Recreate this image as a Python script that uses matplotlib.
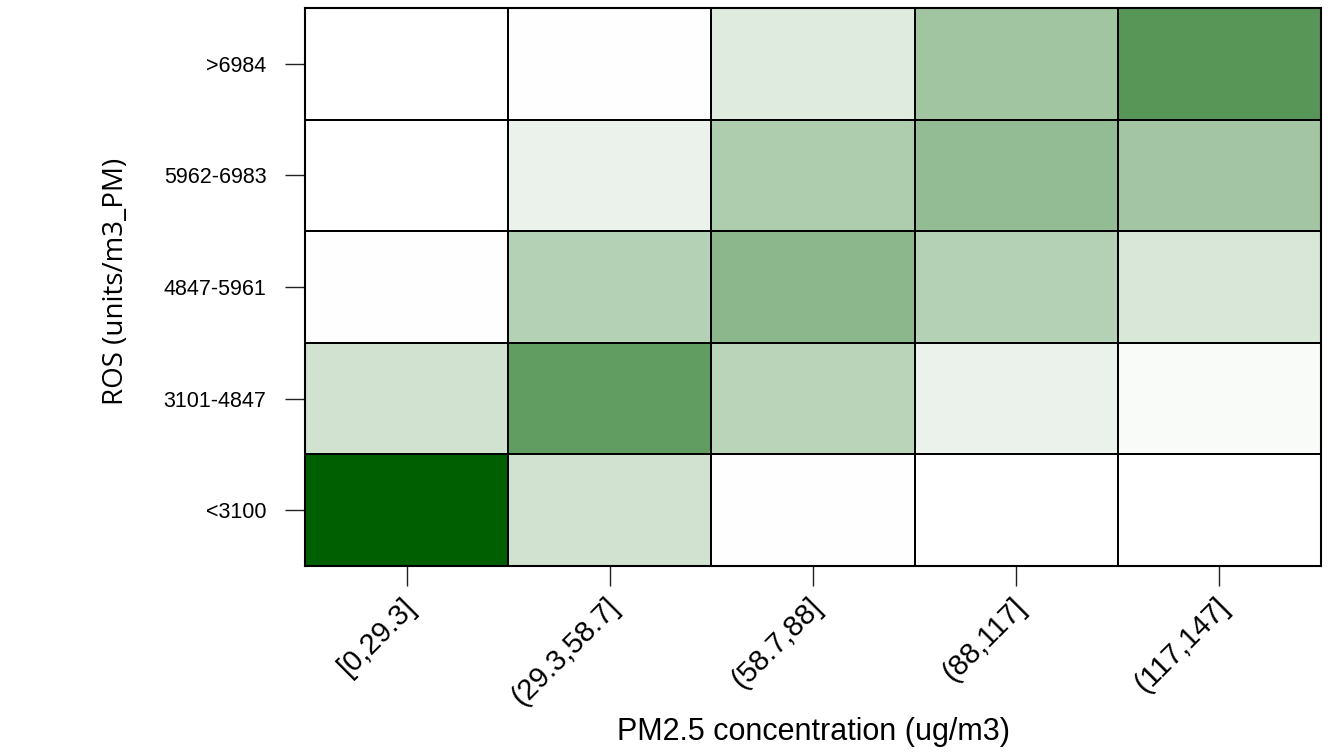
import numpy as np
import matplotlib
matplotlib.use('Agg')
import matplotlib.pyplot as plt
from matplotlib.colors import LinearSegmentedColormap
from matplotlib import transforms

# PM2.5 bins (x) and ROS bins (y, bottom to top)
pm_bins = ['[0,29.3]', '(29.3,58.7]', '(58.7,88]', '(88,117]', '(117,147]']
ros_bins = ['<3100', '3101-4847', '4847-5961', '5962-6983', '>6984']

# relative share per cell, one list per ROS bin
share_lt3100 = [1.00, 0.18, 0.01, 0.00, 0.00]
share_3101_4847 = [0.18, 0.62, 0.27, 0.08, 0.03]
share_4847_5961 = [0.01, 0.29, 0.45, 0.29, 0.15]
share_5962_6983 = [0.00, 0.08, 0.32, 0.42, 0.36]
share_gt6984 = [0.00, 0.01, 0.125, 0.37, 0.66]

grid = np.array([share_lt3100, share_3101_4847, share_4847_5961,
                 share_5962_6983, share_gt6984])

cmap = LinearSegmentedColormap.from_list('wg', ['#ffffff', '#005f00'])

fig = plt.figure(figsize=(13.31, 7.54), dpi=100)
ax = fig.add_axes([0.2292, 0.2493, 0.7633, 0.7401])

ax.pcolormesh(np.arange(len(pm_bins) + 1), np.arange(len(ros_bins) + 1), grid,
              cmap=cmap, vmin=0, vmax=1, edgecolors='black', linewidth=1.2)
ax.set_xlim(0, len(pm_bins))
ax.set_ylim(0, len(ros_bins))

for sp in ax.spines.values():
    sp.set_linewidth(1.5)

ax.set_xticks(np.arange(len(pm_bins)) + 0.5)
ax.set_yticks(np.arange(len(ros_bins)) + 0.5)
ax.set_yticklabels(ros_bins, fontsize=15.5, family='Liberation Sans')
ax.set_xticklabels(pm_bins, fontsize=21, family='Liberation Sans',
                   rotation=45, ha='right', va='center', rotation_mode='anchor')
ax.tick_params(axis='both', length=14.4, width=1.0, color='#222222')
ax.tick_params(axis='y', pad=13.5)
ax.tick_params(axis='x', pad=12)

# nudge rotated labels a little to the right like the original
offset = transforms.ScaledTranslation(5 / 100, 0, fig.dpi_scale_trans)
for lbl in ax.get_xticklabels():
    lbl.set_transform(lbl.get_transform() + offset)

ax.set_xlabel('PM2.5 concentration (ug/m3)', fontsize=22, family='Liberation Sans')
ax.xaxis.set_label_coords(0.5, -0.27)
ax.set_ylabel('ROS (units/m3_PM)', fontsize=20, family='Open Sans')
ax.yaxis.set_label_coords(-0.172, 0.51)

fig.savefig('out.png', dpi=100)
